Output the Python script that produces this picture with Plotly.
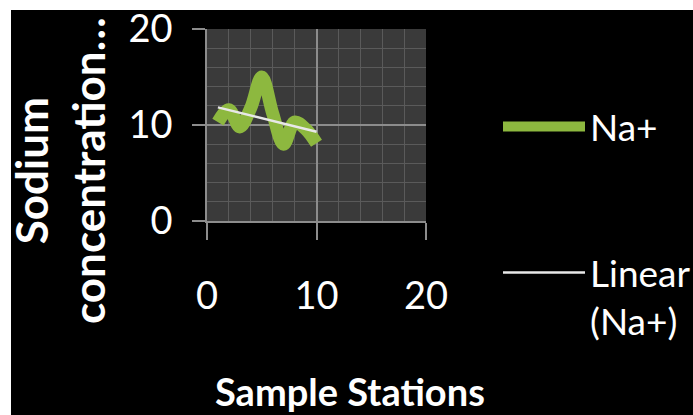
import numpy as np
import plotly.graph_objects as go

# ---- data ----
stations = [1, 2, 3, 4, 5, 6, 7, 8, 9, 10]
sodium = [10.3, 11.6, 9.8, 11.8, 15.0, 11.2, 8.0, 10.3, 9.6, 8.1]
x_ticks = [0, 10, 20]
y_ticks = [0, 10, 20]
series_name = "Na+"
trend_name = "Linear<br>(Na+)"
x_title = "Sample Stations"
y_title = "Sodium<br>concentration…"

slope, intercept = np.polyfit(stations, sodium, 1)
trend_x = [stations[0], stations[-1]]
trend_y = [slope * v + intercept for v in trend_x]

W, H = 693, 415
L, R, T, B = 207, 426, 29, 221  # plot area pixels
def xf(px):
    return (px - L) / (R - L)
def yf(py):
    return (B - py) / (B - T)

FONT = "Lato, sans-serif"
GREEN = "#8DB83F"

fig = go.Figure()
fig.add_trace(go.Scatter(x=stations, y=sodium, mode="lines", name=series_name,
                         line=dict(color=GREEN, width=13, shape="spline", smoothing=1),
                         legend="legend"))
fig.add_trace(go.Scatter(x=trend_x, y=trend_y, mode="lines", name=trend_name,
                         line=dict(color="#e8e8e8", width=2.5),
                         legend="legend2"))

axis_common = dict(range=[0, 20], showgrid=True,
                   gridcolor="#8c8c8c", gridwidth=1.5,
                   minor=dict(dtick=2, showgrid=True, gridcolor="#5a5a5a", gridwidth=1.2),
                   showline=True, linecolor="#8c8c8c", linewidth=1.5,
                   ticks="outside", tickcolor="#8c8c8c", tickwidth=1.5,
                   zeroline=False, fixedrange=True,
                   tickfont=dict(family=FONT, size=38, color="white"))

fig.update_xaxes(**axis_common, tickvals=x_ticks, ticklen=17, ticklabelstandoff=24)
fig.update_yaxes(**axis_common, tickvals=y_ticks, ticklen=13, ticklabelstandoff=12)

legend_common = dict(bgcolor="rgba(0,0,0,0)", font=dict(family=FONT, size=37, color="white"),
                     itemwidth=82, xanchor="left", yanchor="middle", valign="top",
                     tracegroupgap=0, itemclick=False, itemdoubleclick=False)

fig.update_layout(
    width=W, height=H,
    margin=dict(l=L, r=W - R, t=T, b=H - B, pad=0, autoexpand=False),
    paper_bgcolor="black", plot_bgcolor="#3a3a3a",
    showlegend=True,
    legend=dict(**legend_common, x=xf(498), y=yf(127)),
    legend2=dict(**legend_common, x=xf(498), y=yf(297)),
    shapes=[
        dict(type="rect", xref="paper", yref="paper", x0=xf(0), x1=xf(W), y0=yf(0), y1=yf(10),
             fillcolor="white", line=dict(width=0), layer="above"),
        dict(type="rect", xref="paper", yref="paper", x0=xf(0), x1=xf(11), y0=yf(0), y1=yf(H),
             fillcolor="white", line=dict(width=0), layer="above"),
    ],
    annotations=[
        dict(text=f"<b>{x_title}</b>", xref="paper", yref="paper", x=xf(350), y=yf(391),
             showarrow=False, xanchor="center", yanchor="middle",
             font=dict(family=FONT, size=38, color="white")),
        dict(text=f"<b>{y_title}</b>", xref="paper", yref="paper", x=xf(59), y=yf(171),
             showarrow=False, xanchor="center", yanchor="middle", textangle=-90,
             font=dict(family=FONT, size=44, color="white")),
    ],
)

fig.write_html("out.html")
